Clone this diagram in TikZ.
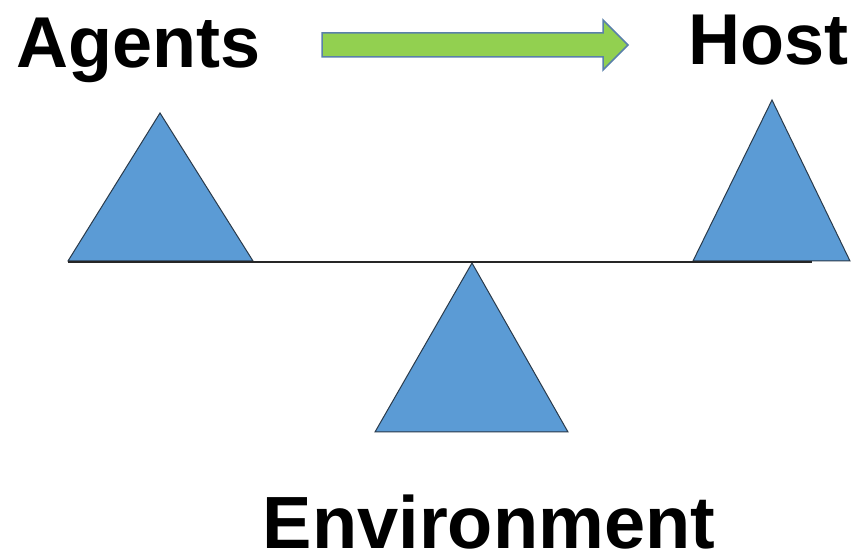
\documentclass[tikz,border=0pt]{standalone}
\usepackage{fontspec}
\setmainfont{Liberation Sans}
\definecolor{trifill}{HTML}{5B9BD5}
\definecolor{triline}{HTML}{2A3A4A}
\definecolor{arrfill}{HTML}{92D050}
\definecolor{arrline}{HTML}{5A80AA}
\tikzset{
  tri/.style={fill=trifill, draw=triline, line width=1pt, line join=miter},
  beam/.style={draw=black!85, line width=2pt},
  bigarrow/.style={fill=arrfill, draw=arrline, line width=1.5pt, line join=miter},
  label/.style={inner sep=0pt, anchor=base, font=\bfseries\fontsize{72}{80}\selectfont}
}
\begin{document}
\begin{tikzpicture}[x=1pt, y=-1pt]
\path[fill=white] (0,0) rectangle (855,553);
\useasboundingbox (0,0) rectangle (855,553);
% labels
\node[label] (agents) at (138.5,68) {Agents};
\node[label] (host) at (768.5,65) {Host};
\node[label, font=\bfseries\fontsize{74}{80}\selectfont] (env) at (489,548) {Environment};
% arrow
\coordinate (a1) at (322,33);
\coordinate (a2) at (603,33);
\coordinate (a3) at (603,20);
\coordinate (a4) at (628,45);
\coordinate (a5) at (603,70);
\coordinate (a6) at (603,57);
\coordinate (a7) at (322,57);
\draw[bigarrow] (a1) -- (a2) -- (a3) -- (a4) -- (a5) -- (a6) -- (a7) -- cycle;
% left triangle
\coordinate (lt) at (160,113);
\coordinate (ll) at (68,261);
\coordinate (lr) at (253,261);
\draw[tri] (lt) -- (lr) -- (ll) -- cycle;
% right triangle
\coordinate (rt) at (772,100);
\coordinate (rl) at (693,261);
\coordinate (rr) at (850,261);
\draw[tri] (rt) -- (rr) -- (rl) -- cycle;
% center triangle
\coordinate (ct) at (472,263);
\coordinate (cl) at (375,432);
\coordinate (cr) at (568,432);
\draw[tri] (ct) -- (cr) -- (cl) -- cycle;
% beam
\coordinate (b1) at (68,262);
\coordinate (b2) at (812,262);
\draw[beam] (b1) -- (b2);
\end{tikzpicture}
\end{document}
